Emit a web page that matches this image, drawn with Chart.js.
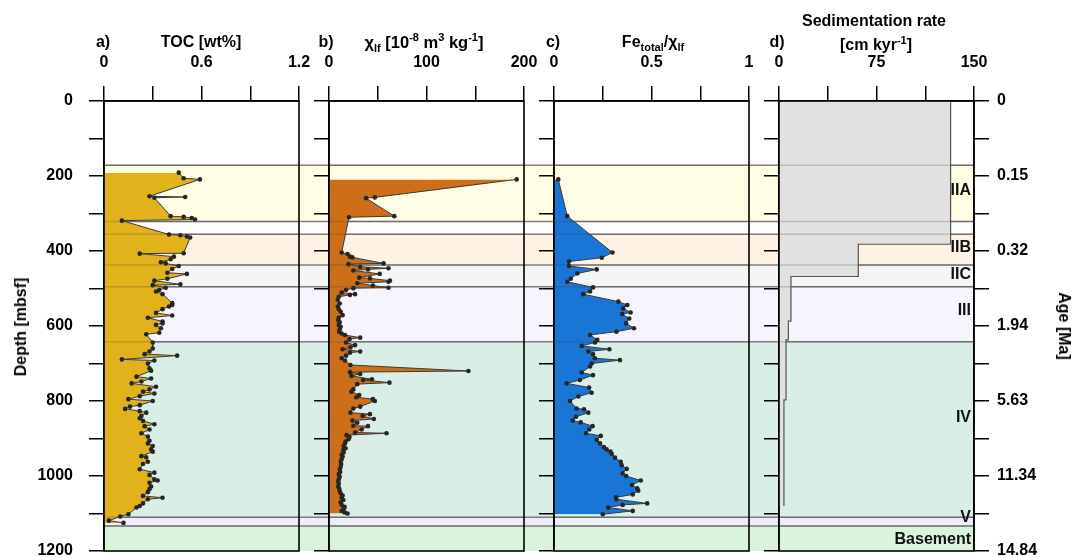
<!DOCTYPE html>
<html><head><meta charset="utf-8">
<script src="https://cdn.jsdelivr.net/npm/chart.js@4.4.1/dist/chart.umd.min.js"></script>
<style>
html,body{margin:0;padding:0;background:#fff;overflow:hidden;width:1074px;height:557px;}
#wrap{position:relative;width:1074px;height:557px;overflow:hidden;}
canvas{position:absolute;left:0;top:0;}
.t{position:absolute;font:bold 16px "Liberation Sans",Arial,sans-serif;color:#000;white-space:nowrap;transform:translate(-50%,-50%);line-height:1;}
.t sub,.t sup{font-size:11px;line-height:0;}
.rl{transform:translate(-50%,-50%) rotate(-90deg);}
.rr{transform:translate(-50%,-50%) rotate(90deg);}
</style></head><body>
<div id="wrap">
<canvas id="bg" width="1074" height="600"></canvas>
<canvas id="pa" width="1074" height="600"></canvas>
<canvas id="pb" width="1074" height="600"></canvas>
<canvas id="pc" width="1074" height="600"></canvas>
<canvas id="pd" width="1074" height="600"></canvas>
<div class="t" style="left:103px;top:42px">a)</div>
<div class="t" style="left:201px;top:42px">TOC [wt%]</div>
<div class="t" style="left:326px;top:42px">b)</div>
<div class="t" style="left:424px;top:42px;font-size:16.5px">χ<sub>lf</sub> [10<sup>-8</sup> m<sup>3</sup> kg<sup>-1</sup>]</div>
<div class="t" style="left:553px;top:42px">c)</div>
<div class="t" style="left:653px;top:42px">Fe<sub>total</sub>/χ<sub>lf</sub></div>
<div class="t" style="left:777px;top:42px">d)</div>
<div class="t" style="left:874px;top:21px">Sedimentation rate</div>
<div class="t" style="left:876px;top:45px">[cm kyr<sup>-1</sup>]</div>
<div class="t rl" style="left:21px;top:327px">Depth [mbsf]</div>
<div class="t rr" style="left:1064px;top:326px">Age [Ma]</div>
</div>
<script>
// ---------------- DATA ----------------
const tocDepth = [191,206,209,254,256,258,307,309,312,316,319,356,358,361,364,406,407,415,422,430,433,440,448,458,461,474,479,489,491,498,504,508,515,539,544,548,555,565,572,578,588,593,597,606,618,622,644,660,668,675,679,689,692,700,713,719,735,740,748,753,762,769,775,780,787,795,800,811,815,821,827,831,840,846,853,862,867,876,886,895,906,913,920,929,935,947,950,962,968,982,991,997,1009,1012,1018,1028,1035,1043,1053,1058,1062,1073,1080,1084,1102,1108,1119,1125];
const tocValue = [0.46,0.49,0.59,0.28,0.50,0.31,0.41,0.49,0.54,0.56,0.11,0.40,0.47,0.51,0.53,0.49,0.22,0.43,0.41,0.35,0.38,0.46,0.42,0.39,0.51,0.39,0.31,0.47,0.30,0.38,0.34,0.32,0.36,0.42,0.42,0.40,0.36,0.32,0.42,0.27,0.36,0.36,0.32,0.35,0.34,0.26,0.30,0.30,0.28,0.25,0.45,0.11,0.31,0.27,0.28,0.29,0.20,0.29,0.23,0.17,0.32,0.28,0.24,0.31,0.22,0.15,0.30,0.22,0.16,0.13,0.22,0.26,0.23,0.22,0.24,0.31,0.25,0.28,0.23,0.27,0.28,0.27,0.30,0.29,0.30,0.23,0.26,0.27,0.24,0.22,0.31,0.28,0.31,0.33,0.28,0.29,0.28,0.27,0.24,0.36,0.27,0.24,0.22,0.20,0.15,0.10,0.03,0.12];

const chiDepth = [209,257,259,307,310,404,408,415,417,433,435,442,446,449,452,461,471,473,479,482,486,492,498,499,504,511,515,517,522,530,540,548,555,562,571,578,584,590,597,602,609,615,620,624,631,635,644,651,657,662,668,671,679,686,692,704,720,723,728,733,742,744,751,755,769,775,784,790,795,800,815,820,831,835,840,848,852,858,866,867,876,884,886,891,896,902,908,913,920,926,931,937,943,948,955,962,968,975,982,989,995,1002,1009,1015,1021,1028,1034,1040,1046,1052,1058,1064,1070,1077,1082,1086,1093,1097,1100];
const chiValue = [192.5,47,38,67,20.5,13,19,21.5,24,56,20,32,61,40,25,52,31,42,62.5,61,29,45,61,25,17.5,13,26.7,21.5,10,9,11,9,10,12,14,10,9.5,11,10,12,11,10.5,13,16.4,32,21,17.5,26.7,22,14,32,21.5,17.5,13,16.4,22,143,21.5,32,23,44,35,62,29,25,23,31,28,45,47,32,25,22,42,34.5,46,24,29,25,40,33.5,26.7,59,18,21,20,17,16.4,15,17,14.7,15,13,14,13,12,12.5,12,11,11.5,10,11,10,9.5,10,9.5,10.5,11,12,14,13,14.7,12,13,16,15.4,13,16,19];

const feDepth = [209,307,404,418,428,440,449,460,474,482,497,508,515,535,544,553,564,568,580,593,606,615,624,637,644,653,662,668,675,686,691,700,708,724,731,744,753,764,778,788,800,820,822,831,842,852,857,867,876,886,893,904,913,923,929,935,941,951,962,971,981,993,1000,1012,1024,1033,1039,1049,1057,1062,1073,1077,1084,1093,1102];
const feValue = [0.022,0.068,0.30,0.245,0.077,0.077,0.219,0.12,0.086,0.068,0.20,0.185,0.15,0.33,0.376,0.355,0.393,0.35,0.386,0.37,0.41,0.32,0.185,0.222,0.21,0.142,0.284,0.176,0.20,0.21,0.338,0.193,0.185,0.142,0.20,0.133,0.065,0.18,0.193,0.125,0.082,0.116,0.154,0.176,0.113,0.096,0.137,0.198,0.181,0.164,0.24,0.219,0.236,0.256,0.27,0.29,0.296,0.313,0.342,0.347,0.373,0.352,0.37,0.445,0.40,0.427,0.432,0.404,0.318,0.32,0.478,0.352,0.278,0.404,0.25];

const sedTop    = [0,   382, 468, 587, 637, 797];
const sedBottom = [382, 468, 587, 637, 797, 1080];
const sedRate   = [132, 61,  9.2, 7.2, 5.4, 3.8];

const unitNames  = ['IIA','IIB','IIC','III','IV','V','Basement'];
const unitTop    = [171, 355, 437, 495, 642, 1110, 1133];
const unitBottom = [321, 437, 495, 642, 1110, 1133, 1200];
const unitLabelDepth = [237, 389, 461, 555, 842, 1108, 1166];

const ageDepth = [0, 200, 400, 600, 800, 1000, 1200];
const ageLabel = ['0', '0.15', '0.32', '1.94', '5.63', '11.34', '14.84'];
const depthLabels = [0, 200, 400, 600, 800, 1000, 1200];

const tocTicks = [0, 0.6, 1.2];
const chiTicks = [0, 100, 200];
const feTicks  = [0, 0.5, 1];
const sedTicks = [0, 75, 150];

// ---------------- STYLE ----------------
const unitColors = ['#FFFDE4', '#FDF2E3', '#F5F5F5', '#F8F4FD', '#D9EEE6', '#EFEDFA', '#D9F4DA'];
const FONT = {family: '"Liberation Sans", Arial, sans-serif', size: 16, weight: 'bold'};
Chart.defaults.font.family = FONT.family;
Chart.defaults.font.size = 16;
Chart.defaults.font.weight = 'bold';
Chart.defaults.color = '#000';

const W = 1074, H = 600, TOP = 101, BOTTOM = 551, YW = 100;

function pts(xs, ys) { return xs.map((v, i) => ({x: v, y: ys[i]})); }
function labelFrom(list) {
  return v => { const f = list.find(t => Math.abs(t - v) < 1e-6); return f === undefined ? '' : String(f); };
}
function boundaryDepths() {
  const b = new Set();
  unitTop.forEach(v => b.add(v));
  unitBottom.forEach(v => { if (v < 1200) b.add(v); });
  return [...b];
}

// ---------------- BACKGROUND (bands + age axis) ----------------
const bandPlugin = {
  id: 'bands',
  beforeDraw(chart) {
    const {ctx, chartArea} = chart;
    const y = chart.scales.y;
    ctx.save();
    unitNames.forEach((n, i) => {
      const y0 = y.getPixelForValue(unitTop[i]);
      const y1 = y.getPixelForValue(unitBottom[i]);
      ctx.fillStyle = unitColors[i];
      ctx.fillRect(chartArea.left, y0, chartArea.right - chartArea.left, y1 - y0);
    });
    ctx.strokeStyle = '#7d7d7d';
    ctx.lineWidth = 1.5;
    boundaryDepths().forEach(v => {
      const p = y.getPixelForValue(v);
      ctx.beginPath(); ctx.moveTo(chartArea.left, p); ctx.lineTo(chartArea.right, p); ctx.stroke();
    });
    ctx.restore();
  }
};

new Chart(document.getElementById('bg'), {
  type: 'line',
  data: {datasets: []},
  options: {
    responsive: false, animation: false, events: [],
    layout: {padding: {left: 104, right: W - 974 - 90, top: TOP, bottom: H - BOTTOM}},
    plugins: {legend: {display: false}, tooltip: {enabled: false}},
    scales: {
      x: {type: 'linear', display: false, min: 0, max: 1},
      y: {type: 'linear', display: false, reverse: true, min: 0, max: 1200},
      yAge: {
        axis: 'y', type: 'linear', position: 'right', reverse: true, min: 0, max: 1200,
        ticks: {stepSize: 100, autoSkip: false, padding: 8, color: '#000', font: FONT,
          callback: v => { const i = ageDepth.indexOf(v); return i < 0 ? '' : ageLabel[i]; }},
        grid: {drawOnChartArea: false, tickLength: 15, color: '#000', lineWidth: 1.5},
        border: {color: '#000', width: 1.6},
        afterFit: s => { s.width = 90; }
      }
    }
  },
  plugins: [bandPlugin]
});

// ---------------- PANELS ----------------
const boxPlugin = {
  id: 'box',
  afterDatasetsDraw(chart) {
    // faint unit boundaries showing through the filled profiles
    const {ctx, chartArea: a} = chart;
    const y = chart.scales.y;
    ctx.save();
    ctx.strokeStyle = 'rgba(60,60,60,0.22)';
    ctx.lineWidth = 1.5;
    boundaryDepths().forEach(v => {
      const p = y.getPixelForValue(v);
      ctx.beginPath(); ctx.moveTo(a.left, p); ctx.lineTo(a.right, p); ctx.stroke();
    });
    ctx.restore();
  },
  afterDraw(chart) {
    const {ctx, chartArea: a} = chart;
    ctx.save();
    ctx.strokeStyle = '#000';
    ctx.lineWidth = 1.6;
    ctx.strokeRect(a.left, a.top, a.right - a.left, a.bottom - a.top);
    ctx.restore();
  }
};

function makePanel(id, left, right, xMax, xStep, xLabels, datasets, showDepth, extra) {
  return new Chart(document.getElementById(id), {
    type: 'line',
    data: {datasets},
    options: {
      responsive: false, animation: false, events: [],
      indexAxis: 'y',
      layout: {padding: {left: left - YW, right: W - right, top: TOP - 60, bottom: H - BOTTOM}},
      plugins: {legend: {display: false}, tooltip: {enabled: false}},
      scales: {
        x: {
          type: 'linear', position: 'top', min: 0, max: xMax,
          ticks: {stepSize: xStep, autoSkip: false, maxRotation: 0, padding: 14, color: '#000', font: FONT,
            callback: labelFrom(xLabels)},
          grid: {drawOnChartArea: false, tickLength: 15, color: '#000', lineWidth: 1.5},
          border: {color: '#000', width: 1.6},
          afterFit: s => { s.height = 60; }
        },
        y: {
          type: 'linear', position: 'left', reverse: true, min: 0, max: 1200,
          ticks: {stepSize: 100, autoSkip: false, padding: 16, color: '#000', font: FONT,
            callback: v => (showDepth && depthLabels.includes(v)) ? String(v) : ''},
          grid: {drawOnChartArea: false, tickLength: 15, color: '#000', lineWidth: 1.5},
          border: {color: '#000', width: 1.6},
          afterFit: s => { s.width = YW; }
        }
      }
    },
    plugins: [boxPlugin].concat(extra || [])
  });
}

function profile(xs, ys, fillColor) {
  return {
    data: pts(xs, ys),
    borderColor: '#3a3a3a', borderWidth: 1,
    backgroundColor: fillColor,
    fill: 'origin',
    pointRadius: 2.3, pointBackgroundColor: '#262626', pointBorderWidth: 0,
    tension: 0
  };
}

makePanel('pa', 104, 299, 1.2, 0.3, tocTicks, [profile(tocValue, tocDepth, '#E1B21B')], true);
makePanel('pb', 329, 524, 200, 50, chiTicks, [profile(chiValue, chiDepth, '#CD6E19')], false);
makePanel('pc', 554, 749, 1, 0.25, feTicks, [profile(feValue, feDepth, '#1976D6')], false);

const sedX = [], sedY = [];
sedRate.forEach((r, i) => { sedX.push(r, r); sedY.push(sedTop[i], sedBottom[i]); });

const unitLabelPlugin = {
  id: 'unitLabels',
  afterDatasetsDraw(chart) {
    const {ctx, chartArea} = chart;
    const y = chart.scales.y;
    ctx.save();
    ctx.fillStyle = '#111';
    ctx.font = 'bold 16px "Liberation Sans", Arial, sans-serif';
    ctx.textAlign = 'right';
    ctx.textBaseline = 'middle';
    unitNames.forEach((n, i) => ctx.fillText(n, chartArea.right - 3, y.getPixelForValue(unitLabelDepth[i]) + 1));
    ctx.restore();
  }
};

makePanel('pd', 779, 974, 150, 37.5, sedTicks, [{
  data: pts(sedX, sedY),
  borderColor: '#555', borderWidth: 1.2,
  backgroundColor: '#E1E1E1', fill: 'origin',
  pointRadius: 0, tension: 0
}], false, [unitLabelPlugin]);
</script>
</body></html>
